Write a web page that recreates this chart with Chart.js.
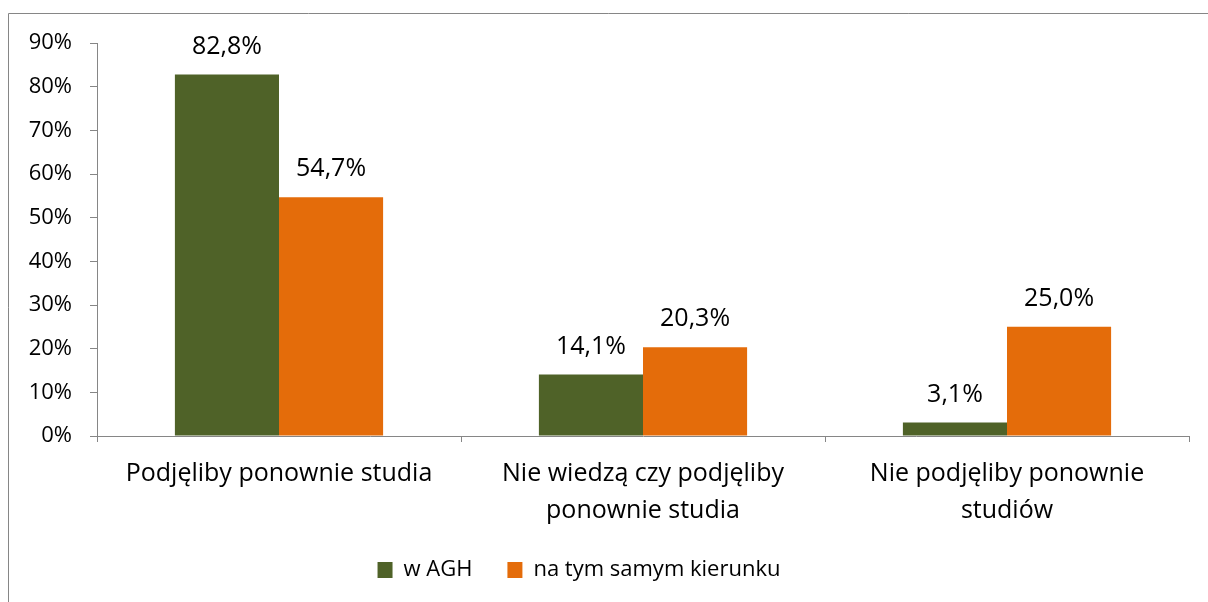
<!DOCTYPE html>
<html lang="pl">
<head>
<meta charset="UTF-8">
<title>Ponowny wybór studiów</title>
<script src="https://cdn.jsdelivr.net/npm/chart.js"></script>
<style>
    html, body { margin: 0; padding: 0; background: #fff; }
    .chart-box { position: relative; width: 1208px; height: 602px; }
</style>
</head>
<body>

<div class="chart-box">
    <canvas id="chart1"></canvas>
</div>

<script>
    // dane wykresu
    const kategorie = [
        ['Podjęliby ponownie studia'],
        ['Nie wiedzą czy podjęliby', 'ponownie studia'],
        ['Nie podjęliby ponownie', 'studiów']
    ];
    const serie = ['w AGH', 'na tym samym kierunku'];
    const wAGH = [82.8, 14.1, 3.1];
    const naTymSamymKierunku = [54.7, 20.3, 25.0];
    const skalaY = [0, 10, 20, 30, 40, 50, 60, 70, 80, 90];

    const czcionka = "'Open Sans', sans-serif";
    const szary = '#868686';

    // ramka wokół wykresu
    const ramka = {
        id: 'ramka',
        beforeDraw(chart) {
            const ctx = chart.ctx;
            ctx.save();
            ctx.strokeStyle = szary;
            ctx.lineWidth = 1;
            ctx.beginPath();
            ctx.moveTo(8.5, chart.height);
            ctx.lineTo(8.5, 13.5);
            ctx.lineTo(chart.width, 13.5);
            ctx.stroke();
            ctx.restore();
        }
    };

    // legenda troche w lewo
    const przesunLegende = {
        id: 'przesunLegende',
        afterUpdate(chart) {
            if (chart.legend) {
                chart.legend.left -= 20;
                chart.legend.right -= 20;
            }
        }
    };

    // wartości nad słupkami, z przecinkiem
    const etykiety = {
        id: 'etykiety',
        afterDatasetsDraw(chart) {
            const ctx = chart.ctx;
            ctx.save();
            ctx.font = '25px ' + czcionka;
            ctx.fillStyle = '#000';
            ctx.textAlign = 'center';
            ctx.textBaseline = 'middle';
            chart.data.datasets.forEach(function (ds, i) {
                chart.getDatasetMeta(i).data.forEach(function (bar, j) {
                    const txt = ds.data[j].toFixed(1).replace('.', ',') + '%';
                    ctx.fillText(txt, bar.x, bar.y - 28);
                });
            });
            ctx.restore();
        }
    };

    new Chart(document.getElementById('chart1'), {
        type: 'bar',
        data: {
            labels: kategorie,
            datasets: [{
                label: serie[0],
                data: wAGH,
                backgroundColor: '#4F6228',
                categoryPercentage: 0.572,
                barPercentage: 1.0
            }, {
                label: serie[1],
                data: naTymSamymKierunku,
                backgroundColor: '#E46C0A',
                categoryPercentage: 0.572,
                barPercentage: 1.0
            }]
        },
        options: {
            responsive: true,
            maintainAspectRatio: false,
            animation: false,
            layout: {
                padding: { left: 9, right: 19, top: 43, bottom: 11 }
            },
            plugins: {
                tooltip: { enabled: false },
                legend: {
                    position: 'bottom',
                    labels: {
                        boxWidth: 15,
                        boxHeight: 16,
                        padding: 35,
                        color: '#000',
                        font: { family: czcionka, size: 22 }
                    }
                }
            },
            scales: {
                x: {
                    grid: {
                        offset: true,
                        drawOnChartArea: false,
                        tickLength: 6,
                        color: szary
                    },
                    border: { color: szary, width: 1 },
                    ticks: {
                        color: '#000',
                        padding: 13,
                        maxRotation: 0,
                        font: { family: czcionka, size: 25, lineHeight: 1.48 }
                    },
                    afterFit(scale) { scale.height = 88; }
                },
                y: {
                    min: 0,
                    max: 90,
                    afterBuildTicks(scale) {
                        scale.ticks = skalaY.map(function (v) { return { value: v }; });
                    },
                    grid: {
                        drawOnChartArea: false,
                        tickLength: 7,
                        color: szary
                    },
                    border: { color: szary, width: 1 },
                    ticks: {
                        color: '#000',
                        padding: 18,
                        font: { family: czcionka, size: 22 },
                        callback: function (v) { return v + '%'; }
                    },
                    afterFit(scale) { scale.width = 88; }
                }
            }
        },
        plugins: [ramka, przesunLegende, etykiety]
    });
</script>
</body>
</html>
